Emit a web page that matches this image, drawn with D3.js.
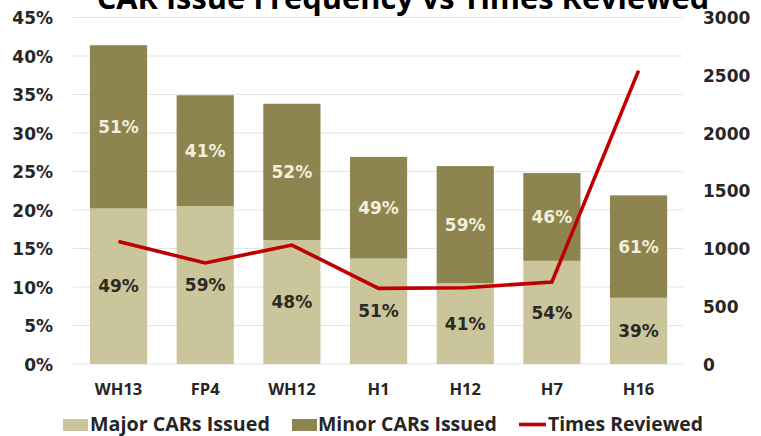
<!DOCTYPE html>
<html><head><meta charset="utf-8">
<script src="https://cdn.jsdelivr.net/npm/d3@7"></script>
<style>
html,body{margin:0;padding:0;background:#fff;}
svg{display:block;}
</style></head>
<body>
<svg id="chart" width="761" height="436"></svg>
<script>
// ---- data ----
const categories = ["WH13","FP4","WH12","H1","H12","H7","H16"];
const majorCARs = [20.2, 20.5, 16.1, 13.7, 10.5, 13.4, 8.6];   // % (bottom segment)
const minorCARs = [21.2, 14.4, 17.7, 13.2, 15.2, 11.4, 13.3];  // % (top segment)
const timesReviewed = [1060, 875, 1030, 655, 660, 710, 2540];
const leftTicks = [0,5,10,15,20,25,30,35,40,45];
const rightTicks = [0,500,1000,1500,2000,2500,3000];
const seriesNames = ["Major CARs Issued","Minor CARs Issued","Times Reviewed"];
const titleText = "CAR Issue Frequency vs Times Reviewed";

// ---- styles ----
const cMajor = "#cbc59c", cMinor = "#8d8450", cLine = "#c00000";
const tickFont = "'DejaVu Sans', sans-serif";
const catFont = "'Open Sans', sans-serif";

const svg = d3.select("#chart");
const x = d3.scaleBand().domain(categories).range([75.2, 681.9]).paddingInner(0.34).paddingOuter(0.17);
const y = d3.scaleLinear().domain([0,45]).range([364,17.5]);
const y2 = d3.scaleLinear().domain([0,3000]).range([364,17.5]);

// gridlines
svg.append("g").selectAll("line").data(leftTicks).join("line")
  .attr("x1",73).attr("x2",683)
  .attr("y1",d=>y(d)).attr("y2",d=>y(d))
  .attr("stroke","#e4e4e4").attr("stroke-width",1.2);

// left axis
const yAxis = d3.axisLeft(y).tickValues(leftTicks).tickFormat(d=>d+"%").tickSize(0).tickPadding(0);
const gL = svg.append("g").attr("transform","translate(53,0)").call(yAxis);
gL.select(".domain").remove();
gL.selectAll("text").attr("font-family",tickFont).attr("font-weight","bold").attr("font-size",17).attr("fill","#262626").attr("dy","0.36em");

// right axis
const y2Axis = d3.axisRight(y2).tickValues(rightTicks).tickSize(0).tickPadding(0).tickFormat(d3.format("d"));
const gR = svg.append("g").attr("transform","translate(703,0)").call(y2Axis);
gR.select(".domain").remove();
gR.selectAll("text").attr("font-family",tickFont).attr("font-weight","bold").attr("font-size",17).attr("fill","#262626").attr("dy","0.36em");

// x axis labels
const xAxis = d3.axisBottom(x).tickSize(0).tickPadding(0);
const gX = svg.append("g").attr("transform","translate(0,383)").call(xAxis);
gX.select(".domain").remove();
gX.selectAll("text").attr("font-family",catFont).attr("font-weight","bold").attr("font-size",16.5).attr("fill","#262626").attr("dy","0.72em");

// stacked bars
const rows = categories.map((c,i)=>({cat:c, major:majorCARs[i], minor:minorCARs[i]}));
const stack = d3.stack().keys(["major","minor"])(rows);
const colors = {major:cMajor, minor:cMinor};
svg.append("g").selectAll("g").data(stack).join("g")
  .attr("fill",s=>colors[s.key])
  .selectAll("rect").data(s=>s).join("rect")
  .attr("x",d=>x(d.data.cat)).attr("width",x.bandwidth())
  .attr("y",d=>y(d[1])).attr("height",d=>y(d[0])-y(d[1]));

// segment labels
const labG = svg.append("g");
stack.forEach(s=>{
  labG.selectAll(null).data(s).join("text")
    .attr("x",d=>x(d.data.cat)+x.bandwidth()/2)
    .attr("y",d=>(y(d[0])+y(d[1]))/2)
    .attr("dy","0.36em")
    .attr("text-anchor","middle")
    .attr("font-family",tickFont).attr("font-weight","bold").attr("font-size",17)
    .attr("fill", s.key==="major" ? "#2a2a22" : "#f3efdc")
    .text(d=>Math.round(100*(d[1]-d[0])/(d.data.major+d.data.minor))+"%");
});

// line
const line = d3.line().x((d,i)=>x(categories[i])+x.bandwidth()/2).y(d=>y2(d));
svg.append("path").datum(timesReviewed).attr("d",line)
  .attr("fill","none").attr("stroke",cLine).attr("stroke-width",3.6).attr("stroke-linejoin","miter");

// helper to fit text width
function fit(sel, w){
  const n = sel.node(); const fs = +sel.attr("font-size");
  const len = n.getComputedTextLength();
  if(len>0) sel.attr("font-size", fs*w/len);
}

// title (cut off at top, as in the reference)
const title = svg.append("text").attr("x",403).attr("y",9).attr("text-anchor","middle")
  .attr("font-family",catFont).attr("font-weight","bold").attr("font-size",30).attr("fill","#000").text(titleText);
fit(title, 613);

// legend
const leg = svg.append("g");
leg.append("rect").attr("x",63).attr("y",419).attr("width",25).attr("height",12).attr("fill",cMajor);
leg.append("rect").attr("x",292).attr("y",419).attr("width",25).attr("height",12).attr("fill",cMinor);
leg.append("line").attr("x1",519).attr("x2",546).attr("y1",424.5).attr("y2",424.5).attr("stroke",cLine).attr("stroke-width",3.6);
const legItems = [[90,180],[318,179],[548,155]];
legItems.forEach((p,i)=>{
  const t = leg.append("text").attr("x",p[0]).attr("y",431)
    .attr("font-family",catFont).attr("font-weight","bold").attr("font-size",20).attr("fill","#262626")
    .text(seriesNames[i]);
  fit(t, p[1]);
});
</script>
</body></html>
